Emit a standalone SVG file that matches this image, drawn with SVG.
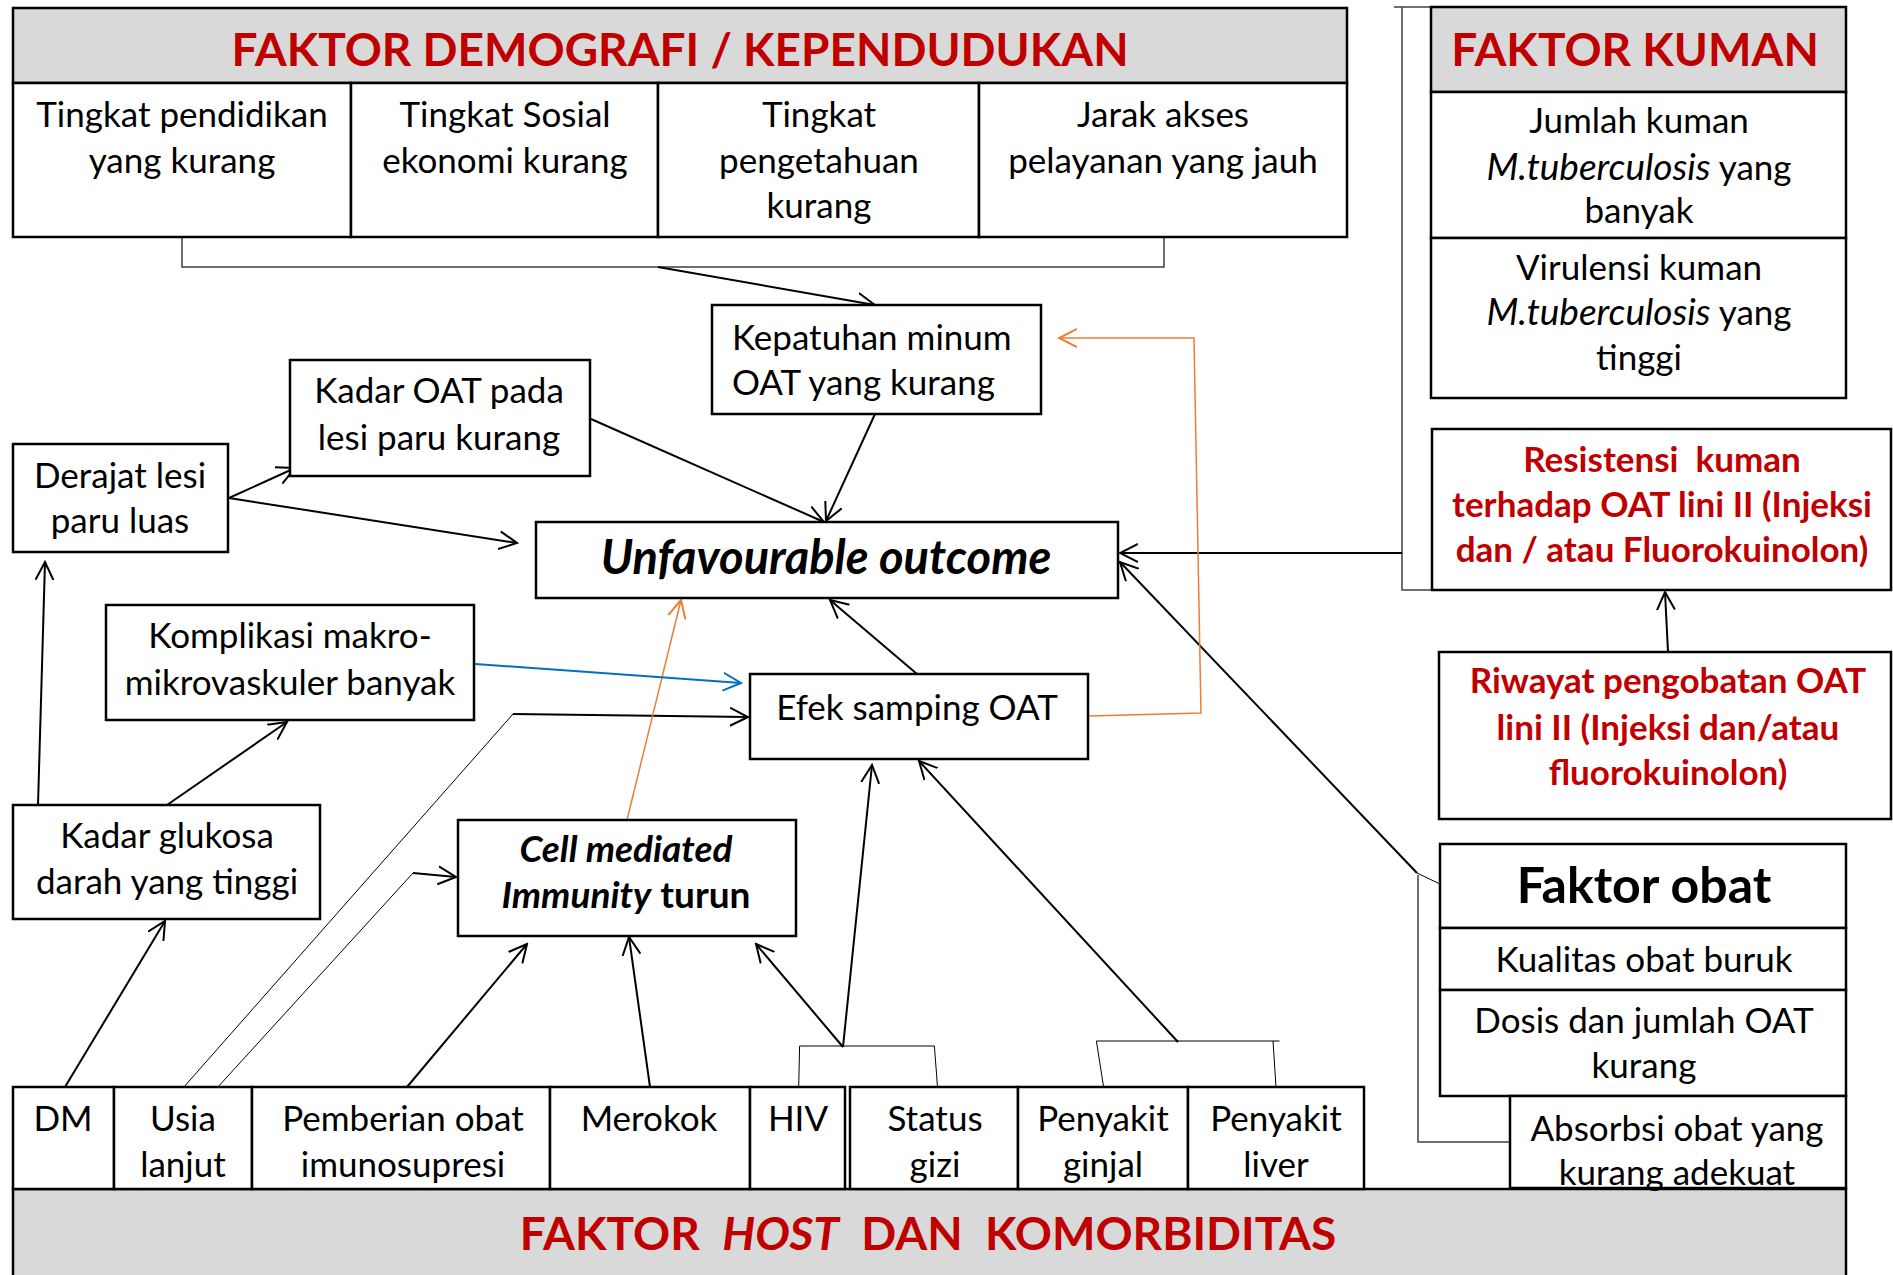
<svg xmlns="http://www.w3.org/2000/svg" width="1893" height="1275" viewBox="0 0 1893 1275">
<style>
.bx{fill:#fff;stroke:#000;stroke-width:2.5}
.gr{fill:#D9D9D9;stroke:#000;stroke-width:2.5}
.t{font-family:Lato,"Open Sans",sans-serif;font-size:35px;fill:#000;text-anchor:middle}
.h{font-family:Lato,"Open Sans",sans-serif;font-size:46px;font-weight:bold;fill:#C00000;text-anchor:middle}
.rb{font-family:Lato,"Open Sans",sans-serif;font-size:35px;font-weight:bold;fill:#C00000;text-anchor:middle}
.ln{fill:none;stroke:#000;stroke-width:2}
.th{fill:none;stroke:#000;stroke-width:1}
.gy{fill:none;stroke:#404040;stroke-width:1.5}
.or{fill:none;stroke:#ED7D31;stroke-width:1.5}
.bl{fill:none;stroke:#0070C0;stroke-width:2}
.a{marker-end:url(#ak)}
</style>
<defs>
<marker id="ak" viewBox="0 0 20 20" refX="18" refY="10" markerWidth="20" markerHeight="20" markerUnits="userSpaceOnUse" orient="auto"><path d="M0,1 L18,10 L0,19" fill="none" stroke="#000" stroke-width="2"/></marker>
<marker id="ao" viewBox="0 0 20 20" refX="18" refY="10" markerWidth="20" markerHeight="20" markerUnits="userSpaceOnUse" orient="auto"><path d="M0,1 L18,10 L0,19" fill="none" stroke="#ED7D31" stroke-width="2"/></marker>
<marker id="ab" viewBox="0 0 20 20" refX="18" refY="10" markerWidth="20" markerHeight="20" markerUnits="userSpaceOnUse" orient="auto"><path d="M0,1 L18,10 L0,19" fill="none" stroke="#0070C0" stroke-width="2"/></marker>
</defs>
<rect width="1893" height="1275" fill="#fff"/>

<g id="connectors">
<polyline class="gy" points="182,237 182,267 1164,267 1164,237"/>
<line class="ln a" x1="658" y1="267" x2="875" y2="305"/>
<line class="ln a" x1="875" y1="414" x2="826" y2="521"/>
<line class="ln a" x1="591" y1="419" x2="824" y2="522"/>
<line class="ln a" x1="229" y1="498" x2="295" y2="468"/>
<line class="ln a" x1="229" y1="498" x2="517" y2="543"/>
<line class="ln a" x1="38" y1="805" x2="45" y2="562"/>
<line class="ln a" x1="167" y1="805" x2="287" y2="722"/>
<line class="ln a" x1="917" y1="674" x2="830" y2="600"/>
<line class="th" x1="183" y1="1088" x2="513" y2="714"/>
<line class="ln a" x1="513" y1="714" x2="748" y2="717"/>
<line class="th" x1="217" y1="1088" x2="413" y2="873"/>
<line class="ln a" x1="413" y1="873" x2="456" y2="877"/>
<line class="ln a" x1="65" y1="1087" x2="165" y2="921"/>
<line class="ln a" x1="407" y1="1087" x2="527" y2="944"/>
<line class="ln a" x1="650" y1="1087" x2="629" y2="937"/>
<polyline class="th" points="798.7,1087 799.6,1046 934.4,1046 937.5,1087"/>
<line class="ln a" x1="843" y1="1047" x2="756" y2="944"/>
<line class="ln a" x1="843" y1="1047" x2="872" y2="765"/>
<polyline class="th" points="1103.6,1087 1096.4,1041 1279.5,1041"/>
<line class="th" x1="1273" y1="1041" x2="1276" y2="1087"/>
<line class="ln a" x1="1178" y1="1042" x2="919" y2="761"/>
<line class="gy" x1="1394" y1="7" x2="1431" y2="7"/>
<polyline class="gy" points="1402,7 1402,590 1432,590"/>
<line class="ln a" x1="1402" y1="553" x2="1120" y2="553"/>
<line class="ln a" x1="1417" y1="873" x2="1120" y2="562"/>
<line class="th" x1="1417" y1="873" x2="1440" y2="884"/>
<polyline class="gy" points="1418,875 1418,1142 1510,1142"/>
<line class="ln a" x1="1668" y1="652" x2="1665" y2="592"/>
<polyline class="or" points="1089,716 1201,713 1194,338 1059,338" style="marker-end:url(#ao)"/>
<line class="or" x1="627" y1="820" x2="681" y2="600" style="marker-end:url(#ao)"/>
<line class="bl" x1="475" y1="664" x2="741" y2="683" style="marker-end:url(#ab)"/>
</g>

<g id="faktor-demografi">
<rect class="gr" x="13" y="8" width="1334" height="75"/>
<text class="h" x="680" y="66">FAKTOR DEMOGRAFI / KEPENDUDUKAN</text>
<rect class="bx" x="13" y="83" width="338" height="154"/>
<rect class="bx" x="351" y="83" width="307" height="154"/>
<rect class="bx" x="658" y="83" width="321" height="154"/>
<rect class="bx" x="979" y="83" width="368" height="154"/>
<text class="t" x="182" y="127">Tingkat pendidikan</text>
<text class="t" x="182" y="173">yang kurang</text>
<text class="t" x="505" y="127">Tingkat Sosial</text>
<text class="t" x="505" y="173">ekonomi kurang</text>
<text class="t" x="819" y="127">Tingkat</text>
<text class="t" x="819" y="173">pengetahuan</text>
<text class="t" x="819" y="218">kurang</text>
<text class="t" x="1163" y="127">Jarak akses</text>
<text class="t" x="1163" y="173">pelayanan yang jauh</text>
</g>

<g id="kepatuhan">
<rect class="bx" x="712" y="305" width="329" height="109"/>
<text class="t" x="732" y="350" style="text-anchor:start">Kepatuhan minum</text>
<text class="t" x="732" y="395" style="text-anchor:start">OAT yang kurang</text>
</g>

<g id="kadar-oat">
<rect class="bx" x="290" y="360" width="300" height="116"/>
<text class="t" x="439" y="403">Kadar OAT pada</text>
<text class="t" x="439" y="450">lesi paru kurang</text>
</g>

<g id="derajat-lesi">
<rect class="bx" x="13" y="444" width="215" height="108"/>
<text class="t" x="120" y="488">Derajat lesi</text>
<text class="t" x="120" y="533">paru luas</text>
</g>

<g id="unfavourable">
<rect class="bx" x="536" y="522" width="582" height="76"/>
<text class="t" x="826" y="574" style="font-size:47px;font-weight:bold;font-style:italic">Unfavourable outcome</text>
</g>

<g id="komplikasi">
<rect class="bx" x="106" y="605" width="368" height="115"/>
<text class="t" x="290" y="648">Komplikasi makro-</text>
<text class="t" x="290" y="695">mikrovaskuler banyak</text>
</g>

<g id="efek-samping">
<rect class="bx" x="750" y="674" width="338" height="85"/>
<text class="t" x="917" y="720">Efek samping OAT</text>
</g>

<g id="cell-mediated">
<rect class="bx" x="458" y="820" width="338" height="116"/>
<text class="t" x="626" y="862" style="font-size:37px;font-weight:bold;font-style:italic">Cell mediated</text>
<text class="t" x="626" y="908" style="font-size:37px;font-weight:bold"><tspan style="font-style:italic">Immunity</tspan> turun</text>
</g>

<g id="kadar-glukosa">
<rect class="bx" x="13" y="805" width="307" height="114"/>
<text class="t" x="167" y="848">Kadar glukosa</text>
<text class="t" x="167" y="894">darah yang tinggi</text>
</g>

<g id="faktor-host">
<rect class="gr" x="13" y="1189" width="1833" height="100"/>
<text class="h" x="928" y="1250" xml:space="preserve">FAKTOR  <tspan style="font-style:italic">HOST</tspan>  DAN  KOMORBIDITAS</text>
<rect class="bx" x="13" y="1087" width="101" height="102"/>
<rect class="bx" x="114" y="1087" width="138" height="102"/>
<rect class="bx" x="252" y="1087" width="298" height="102"/>
<rect class="bx" x="550" y="1087" width="200" height="102"/>
<rect class="bx" x="750" y="1087" width="95" height="102"/>
<rect class="bx" x="850" y="1087" width="168" height="102"/>
<rect class="bx" x="1018" y="1087" width="170" height="102"/>
<rect class="bx" x="1188" y="1087" width="176" height="102"/>
<text class="t" x="63" y="1131">DM</text>
<text class="t" x="183" y="1131">Usia</text>
<text class="t" x="183" y="1177">lanjut</text>
<text class="t" x="403" y="1131">Pemberian obat</text>
<text class="t" x="403" y="1177">imunosupresi</text>
<text class="t" x="649" y="1131">Merokok</text>
<text class="t" x="798" y="1131">HIV</text>
<text class="t" x="935" y="1131">Status</text>
<text class="t" x="935" y="1177">gizi</text>
<text class="t" x="1103" y="1131">Penyakit</text>
<text class="t" x="1103" y="1177">ginjal</text>
<text class="t" x="1276" y="1131">Penyakit</text>
<text class="t" x="1276" y="1177">liver</text>
</g>

<g id="faktor-kuman">
<rect class="gr" x="1431" y="7" width="415" height="85"/>
<text class="h" x="1635" y="66">FAKTOR KUMAN</text>
<rect class="bx" x="1431" y="92" width="415" height="146"/>
<rect class="bx" x="1431" y="238" width="415" height="160"/>
<text class="t" x="1639" y="133">Jumlah kuman</text>
<text class="t" x="1639" y="180"><tspan style="font-style:italic;font-size:37px">M.tuberculosis</tspan> yang</text>
<text class="t" x="1639" y="223">banyak</text>
<text class="t" x="1639" y="280">Virulensi kuman</text>
<text class="t" x="1639" y="325"><tspan style="font-style:italic;font-size:37px">M.tuberculosis</tspan> yang</text>
<text class="t" x="1639" y="370">tinggi</text>
</g>

<g id="resistensi">
<rect class="bx" x="1432" y="429" width="459" height="161"/>
<text class="rb" x="1662" y="472" xml:space="preserve">Resistensi  kuman</text>
<text class="rb" x="1662" y="517">terhadap OAT lini II (Injeksi</text>
<text class="rb" x="1662" y="562">dan / atau Fluorokuinolon)</text>
</g>

<g id="riwayat">
<rect class="bx" x="1439" y="652" width="452" height="167"/>
<text class="rb" x="1668" y="693">Riwayat pengobatan OAT</text>
<text class="rb" x="1668" y="740">lini II (Injeksi dan/atau</text>
<text class="rb" x="1668" y="785">fluorokuinolon)</text>
</g>

<g id="faktor-obat">
<rect class="bx" x="1440" y="844" width="406" height="84"/>
<text class="t" x="1644" y="903" style="font-size:50px;font-weight:bold">Faktor obat</text>
<rect class="bx" x="1440" y="928" width="406" height="62"/>
<text class="t" x="1644" y="972">Kualitas obat buruk</text>
<rect class="bx" x="1440" y="990" width="406" height="106"/>
<text class="t" x="1644" y="1033">Dosis dan jumlah OAT</text>
<text class="t" x="1644" y="1078">kurang</text>
<rect class="bx" x="1510" y="1096" width="336" height="92"/>
<text class="t" x="1677" y="1141">Absorbsi obat yang</text>
<text class="t" x="1677" y="1185">kurang adekuat</text>
</g>
</svg>
